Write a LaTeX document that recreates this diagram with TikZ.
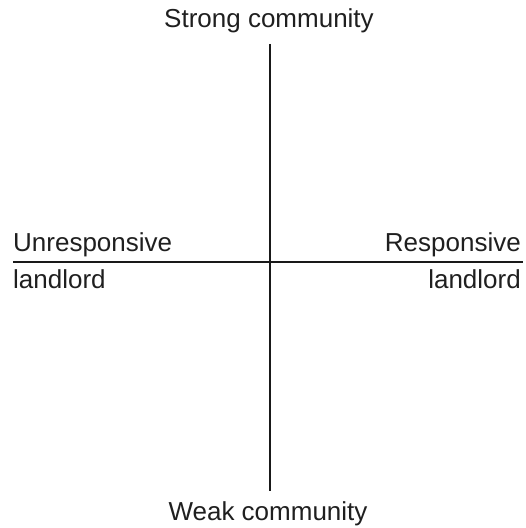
\documentclass[tikz,border=0pt]{standalone}
\usepackage{fontspec}
\setmainfont{Liberation Sans}
\begin{document}
\begin{tikzpicture}[x=1pt,y=1pt,
  lbl/.style={inner sep=0pt, font=\fontsize{26}{30}\selectfont, text=black!88},
  axis/.style={line width=2pt, black!90}]
\useasboundingbox (0,0) rectangle (526,528);
\coordinate (vtop) at (270,484);
\coordinate (vbot) at (270,37);
\coordinate (hleft) at (13,266);
\coordinate (hright) at (523,266);
\draw[axis] (vtop) -- (vbot);
\draw[axis] (hleft) -- (hright);
\node[lbl, anchor=base] (strong) at (269,500) {Strong community};
\node[lbl, anchor=base] (weak) at (268,7) {Weak community};
\node[lbl, anchor=base west] (unresp) at (13,276) {Unresponsive};
\node[lbl, anchor=base west] (landl) at (13,239) {landlord};
\node[lbl, anchor=base east] (resp) at (521,276) {Responsive};
\node[lbl, anchor=base east] (landr) at (521,239) {landlord};
\end{tikzpicture}
\end{document}
